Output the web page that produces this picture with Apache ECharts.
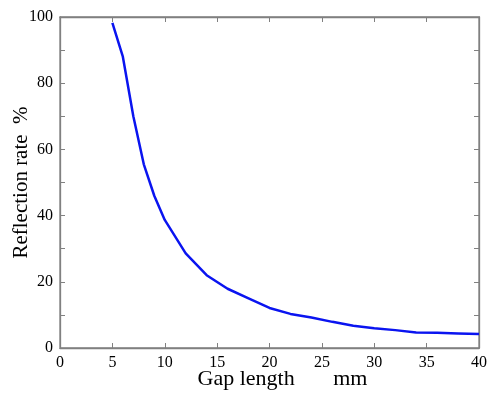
<!DOCTYPE html>
<html><head><meta charset="utf-8">
<script src="https://cdn.jsdelivr.net/npm/echarts@6/dist/echarts.min.js"></script>
<style>html,body{margin:0;padding:0;background:#fff}#c{width:490px;height:393px}</style>
</head><body><div id="c"></div>
<script>
const gapLength = [5,6,7,8,9,10,12,14,16,18,20,22,24,26,28,30,32,34,36,38,40];
const reflection = [98.2,88,70,55.5,46,38.7,28.6,22,17.9,15,12.1,10.3,9.2,7.9,6.7,6.0,5.4,4.7,4.6,4.4,4.2];
const xTitle = 'Gap length       mm';
const yTitle = 'Reflection rate  %';

const font = 'Liberation Serif, Times New Roman, serif';
const axisColor = '#808080';
const chart = echarts.init(document.getElementById('c'), null, {renderer:'canvas'});
function axisCommon(){
  return {
    axisLine:{show:true, onZero:false, lineStyle:{color:axisColor, width:1.3}},
    axisTick:{show:true, inside:true, length:5, lineStyle:{color:axisColor}},
    splitLine:{show:false}
  };
}
chart.setOption({
  animation:false,
  grid:{left:60, top:17, right:11, bottom:45, containLabel:false, outerBoundsMode:'none',
        show:true, borderColor:axisColor, borderWidth:1.3, backgroundColor:'transparent'},
  xAxis:[
    Object.assign({type:'value', min:0, max:40, interval:5, position:'bottom',
      name:xTitle, nameLocation:'middle', nameGap:20, nameMoveOverlap:false,
      nameTextStyle:{fontFamily:font, fontSize:22, color:'#000', padding:[0,0,0,26]},
      axisLabel:{fontFamily:font, fontSize:16, color:'#000', margin:7}}, axisCommon()),
    Object.assign({type:'value', min:0, max:40, interval:5, position:'top',
      axisLabel:{show:false}}, axisCommon())
  ],
  yAxis:[
    Object.assign({type:'value', min:0, max:100, interval:10, position:'left',
      name:yTitle, nameLocation:'middle', nameGap:28, nameMoveOverlap:false,
      nameTextStyle:{fontFamily:font, fontSize:21, color:'#000'},
      axisLabel:{fontFamily:font, fontSize:16, color:'#000', margin:7,
        formatter:v => (v % 20 === 0 ? String(v) : '')}}, axisCommon()),
    Object.assign({type:'value', min:0, max:100, interval:10, position:'right',
      axisLabel:{show:false}}, axisCommon())
  ],
  series:[{
    type:'line', xAxisIndex:0, yAxisIndex:0,
    data: gapLength.map((x,i)=>[x, reflection[i]]),
    showSymbol:false, symbol:'none',
    lineStyle:{color:'#0a14f0', width:2.5}
  },{
    type:'line', xAxisIndex:1, yAxisIndex:1,
    data: gapLength.map((x,i)=>[x, reflection[i]]),
    showSymbol:false, symbol:'none', silent:true,
    lineStyle:{opacity:0}
  }]
});
</script></body></html>
